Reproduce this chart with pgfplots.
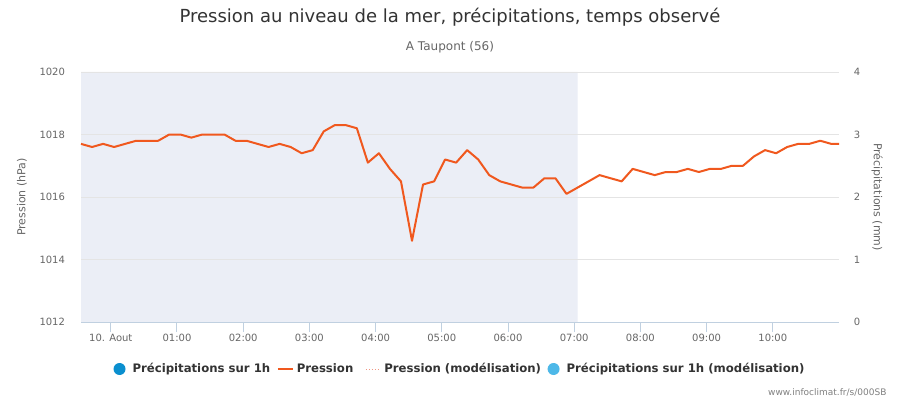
\documentclass[border=0pt]{standalone}
\usepackage{fontspec}
\setmainfont{DejaVu Sans}
\newfontfamily\titlefont{DejaVu Sans}
\usepackage{pgfplots}
\pgfplotsset{compat=1.18}
\usepackage{pgfplotstable}
\pgfplotsset{
  shortline/.style={legend image code/.code={\draw[##1] (0pt,0pt) -- (15pt,0pt);}},
  dotline/.style={legend image code/.code={\draw[##1] (6pt,0pt) -- (21pt,0pt); \path[draw=none] (0pt,0pt) -- (21pt,0pt);}},
  dotimg/.style={legend image code/.code={\fill[##1, draw=none] (6pt,0pt) circle (6pt); \path[draw=none, fill=none] (0pt,0pt) -- (16pt,0pt);}},
}
\definecolor{bandcol}{RGB}{235,238,246}
\definecolor{gridcol}{RGB}{228,228,228}
\definecolor{axiscol}{RGB}{192,208,224}
\definecolor{linecol}{RGB}{240,88,30}
\definecolor{tickcol}{RGB}{102,102,102}
\definecolor{titlecol}{RGB}{51,51,51}
\definecolor{precipblue}{RGB}{10,143,207}
\definecolor{precipmod}{RGB}{77,184,232}
\definecolor{pressmod}{RGB}{240,150,130}
\pgfplotstableread{
t p
-27 1017.7
-17 1017.6
-7 1017.7
3 1017.6
13 1017.7
23 1017.8
33 1017.8
43 1017.8
53 1018.0
63 1018.0
73 1017.9
83 1018.0
93 1018.0
103 1018.0
113 1017.8
123 1017.8
133 1017.7
143 1017.6
153 1017.7
163 1017.6
173 1017.4
183 1017.5
193 1018.1
203 1018.3
213 1018.3
223 1018.2
233 1017.1
243 1017.4
253 1016.9
263 1016.5
273 1014.6
283 1016.4
293 1016.5
303 1017.2
313 1017.1
323 1017.5
333 1017.2
343 1016.7
353 1016.5
363 1016.4
373 1016.3
383 1016.3
393 1016.6
403 1016.6
413 1016.1
423 1016.3
433 1016.5
443 1016.7
453 1016.6
463 1016.5
473 1016.9
483 1016.8
493 1016.7
503 1016.8
513 1016.8
523 1016.9
533 1016.8
543 1016.9
553 1016.9
563 1017.0
573 1017.0
583 1017.3
593 1017.5
603 1017.4
613 1017.6
623 1017.7
633 1017.7
643 1017.8
653 1017.7
660 1017.7
}\pressure
\begin{document}
\begin{tikzpicture}[x=1pt,y=1pt]
\path[use as bounding box, fill=white] (0,0) rectangle (900,400);
% right axis (precipitation) with band
\begin{axis}[
  at={(81pt,78pt)}, anchor=south west,
  scale only axis, width=758pt, height=250pt,
  xmin=-27, xmax=660, ymin=0, ymax=4,
  axis y line*=right, axis x line=none,
  ytick={0,1,2,3,4},
  yticklabels={0,1,2,3,4},
  y axis line style={draw=none},
  major tick length=0pt,
  yticklabel style={font=\fontsize{10}{12}\selectfont, text=tickcol, anchor=center, xshift=18pt},
]
\addplot[fill=bandcol, draw=none] coordinates {(-27,0) (-27,4) (423,4) (423,0)} \closedcycle;
\end{axis}
% left axis (pressure)
\begin{axis}[
  at={(81pt,78pt)}, anchor=south west,
  scale only axis, width=758pt, height=250pt,
  xmin=-27, xmax=660, ymin=1012, ymax=1020,
  axis y line*=left, axis x line*=bottom,
  y axis line style={draw=none},
  x axis line style={draw=axiscol, line width=1pt, -},
  ytick={1012,1014,1016,1018,1020},
  yticklabels={1012,1014,1016,1018,1020},
  ymajorgrids, major grid style={draw=gridcol, line width=0.8pt},
  ytick style={draw=none},
  xtick={0,60,120,180,240,300,360,420,480,540,600},
  xticklabels={10. Aout,01:00,02:00,03:00,04:00,05:00,06:00,07:00,08:00,09:00,10:00},
  xtick style={draw=axiscol, line width=1pt},
  xtick align=outside, x tick label style={yshift=1pt},
  major tick length=10pt,
  yticklabel style={font=\fontsize{10}{12}\selectfont, text=tickcol, anchor=east, xshift=-12.5pt},
  xticklabel style={font=\fontsize{10}{12}\selectfont, text=tickcol},
  legend columns=4,
  legend style={at={(0.5,-0.188)}, anchor=center, draw=none, fill=none,
    font=\bfseries\fontsize{11.7}{13}\selectfont, text=titlecol,
    /tikz/every odd column/.append style={column sep=1pt},
    /tikz/every even column/.append style={column sep=4.5pt}},
  legend cell align=left,
  clip=false,
]
\addlegendimage{color=precipblue, dotimg}
\addlegendentry{Précipitations sur 1h}
\addplot[color=linecol, line width=2pt, line join=round, shortline] table[x=t, y=p] {\pressure};
\addlegendentry{Pression}
\addlegendimage{color=pressmod, line width=1pt, dotted, dotline}
\addlegendentry{Pression (modélisation)}
\addlegendimage{color=precipmod, dotimg}
\addlegendentry{Précipitations sur 1h (modélisation)}
\end{axis}
\node[font=\titlefont\fontsize{18}{20}\selectfont, text=titlecol] at (450,383) {Pression au niveau de la mer, précipitations, temps observé};
\node[font=\titlefont\fontsize{12}{14}\selectfont, text=tickcol] at (450,353) {A Taupont (56)};
\node[font=\fontsize{11}{13}\selectfont, text=tickcol, rotate=90] at (22,203) {Pression (hPa)};
\node[font=\fontsize{11}{13}\selectfont, text=tickcol, rotate=-90] at (877,203) {Précipitations (mm)};
\node[font=\fontsize{9}{11}\selectfont, text=gray, anchor=east] at (890,8) {www.infoclimat.fr/s/000SB};
\end{tikzpicture}
\end{document}
